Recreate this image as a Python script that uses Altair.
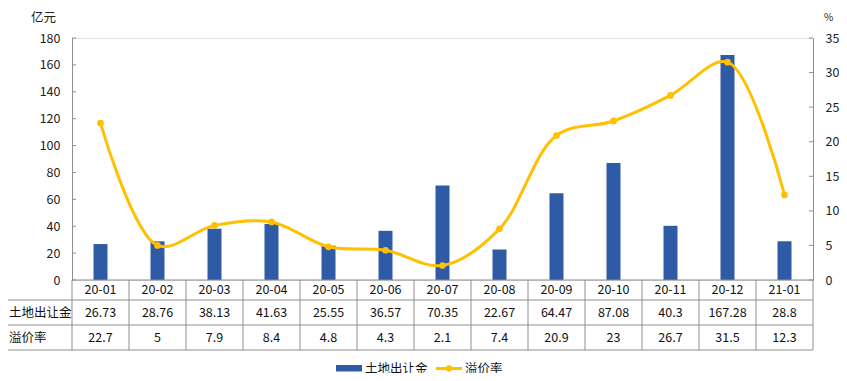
import altair as alt
import pandas as pd

months = ["20-01", "20-02", "20-03", "20-04", "20-05", "20-06", "20-07",
          "20-08", "20-09", "20-10", "20-11", "20-12", "21-01"]
amount = [26.73, 28.76, 38.13, 41.63, 25.55, 36.57, 70.35, 22.67, 64.47, 87.08, 40.3, 167.28, 28.8]
rate = [22.7, 5, 7.9, 8.4, 4.8, 4.3, 2.1, 7.4, 20.9, 23, 26.7, 31.5, 12.3]
amount_labels = ["26.73", "28.76", "38.13", "41.63", "25.55", "36.57", "70.35",
                 "22.67", "64.47", "87.08", "40.3", "167.28", "28.8"]
rate_labels = ["22.7", "5", "7.9", "8.4", "4.8", "4.3", "2.1", "7.4", "20.9", "23", "26.7", "31.5", "12.3"]
left_ticks = [0, 20, 40, 60, 80, 100, 120, 140, 160, 180]
right_ticks = [0, 5, 10, 15, 20, 25, 30, 35]
row_names = ["土地出让金", "溢价率"]

FONT = "Noto Sans CJK SC"
BLUE = "#2F5AA6"
YELLOW = "#FFC000"
GRID = "#8f8f8f"
W, H = 741, 242

df = pd.DataFrame({"month": months, "amount": amount, "rate": rate,
                   "alab": amount_labels, "rlab": rate_labels})
xenc = alt.X("month:N", sort=months, scale=alt.Scale(domain=months, paddingInner=0, paddingOuter=0), axis=None)
base = alt.Chart(df)
one = alt.Chart(pd.DataFrame({"k": [0]}))

bars = base.mark_bar(color=BLUE, size=14).encode(
    x=xenc,
    y=alt.Y("amount:Q", scale=alt.Scale(domain=[0, 180], nice=False),
            axis=alt.Axis(orient="left", values=left_ticks, ticks=False, grid=False,
                          domainColor=GRID, labelPadding=12, labelFontSize=12.5,
                          labelColor="#222", labelFont=FONT,
                          title="亿元", titleAngle=0, titleX=-29, titleY=-21,
                          titleAlign="center", titleBaseline="middle",
                          titleFontWeight="normal", titleFontSize=12.5, titleFont=FONT,
                          titleColor="#222")),
)

line = base.mark_line(color=YELLOW, strokeWidth=3, interpolate="catmull-rom").encode(
    x=xenc,
    y=alt.Y("rate:Q", scale=alt.Scale(domain=[0, 35], nice=False),
            axis=alt.Axis(orient="right", values=right_ticks, ticks=False, grid=False,
                          domainColor=GRID, labelPadding=12, labelFontSize=12.5,
                          labelColor="#222", labelFont=FONT,
                          title="%", titleAngle=0, titleX=15, titleY=-21,
                          titleAlign="center", titleBaseline="middle",
                          titleFontWeight="normal", titleFontSize=10, titleFont=FONT,
                          titleColor="#222")),
)
points = base.mark_point(color=YELLOW, filled=True, opacity=1, size=45).encode(
    x=xenc,
    y=alt.Y("rate:Q", scale=alt.Scale(domain=[0, 35], nice=False), axis=None),
)

lt = alt.Chart(pd.DataFrame({"v": left_ticks})).mark_rule(color=GRID).encode(
    y=alt.Y("v:Q", scale=alt.Scale(domain=[0, 180], nice=False), axis=None),
    x=alt.value(0), x2=alt.value(4))
rt = alt.Chart(pd.DataFrame({"v": right_ticks})).mark_rule(color=GRID).encode(
    y=alt.Y("v:Q", scale=alt.Scale(domain=[0, 35], nice=False), axis=None),
    x=alt.value(W - 4), x2=alt.value(W))

# table
vlines = base.mark_rule(color=GRID).encode(
    x=alt.X("month:N", sort=months, bandPosition=0,
            scale=alt.Scale(domain=months, paddingInner=0, paddingOuter=0), axis=None),
    y=alt.value(H), y2=alt.value(H + 70))
right_v = one.mark_rule(color=GRID).encode(x=alt.value(W), y=alt.value(H), y2=alt.value(H + 70))
left_v = one.mark_rule(color=GRID).encode(x=alt.value(-65), y=alt.value(H + 20), y2=alt.value(H + 70))
xaxis_line = one.mark_rule(color=GRID).encode(x=alt.value(0), x2=alt.value(W), y=alt.value(H))
hlines = [one.mark_rule(color=GRID).encode(x=alt.value(-65), x2=alt.value(W), y=alt.value(H + d))
          for d in (20, 45, 70)]

tkw = dict(font=FONT, fontSize=12.5, color="#111", baseline="middle")
cat_text = base.mark_text(**tkw).encode(x=xenc, y=alt.value(H + 10), text="month:N")
amt_text = base.mark_text(**tkw).encode(x=xenc, y=alt.value(H + 32.5), text="alab:N")
rate_text = base.mark_text(**tkw).encode(x=xenc, y=alt.value(H + 57.5), text="rlab:N")

rows = pd.DataFrame({"name": row_names, "yy": [H + 32.5, H + 57.5]})
row_text = alt.Chart(rows).mark_text(align="left", **tkw).encode(
    x=alt.value(-63), y=alt.Y("yy:Q", scale=None), text="name:N")

# legend
leg_rect = one.mark_rect(color=BLUE).encode(
    x=alt.value(264), x2=alt.value(290), y=alt.value(H + 85), y2=alt.value(H + 91.5))
leg_t1 = one.mark_text(align="left", **tkw).encode(
    x=alt.value(293), y=alt.value(H + 88.5), text=alt.value(row_names[0]))
leg_line = one.mark_rule(color=YELLOW, strokeWidth=3).encode(
    x=alt.value(364), x2=alt.value(390), y=alt.value(H + 88.5))
leg_pt = one.mark_point(color=YELLOW, filled=True, opacity=1, size=40).encode(
    x=alt.value(377), y=alt.value(H + 88.5))
leg_t2 = one.mark_text(align="left", **tkw).encode(
    x=alt.value(393), y=alt.value(H + 88.5), text=alt.value(row_names[1]))

chart = alt.layer(
    bars, line, points, lt, rt, vlines, right_v, left_v, xaxis_line, *hlines,
    cat_text, amt_text, rate_text, row_text, leg_rect, leg_t1, leg_line, leg_pt, leg_t2
).resolve_scale(y="independent").properties(
    width=W, height=H,
    padding={"left": 64, "top": 30, "right": 26, "bottom": 93},
    autosize=alt.AutoSizeParams(type="none"),
).configure_view(stroke=None).configure(background="white")

chart.save("out.html", embed_options={"renderer": "svg", "actions": False})
